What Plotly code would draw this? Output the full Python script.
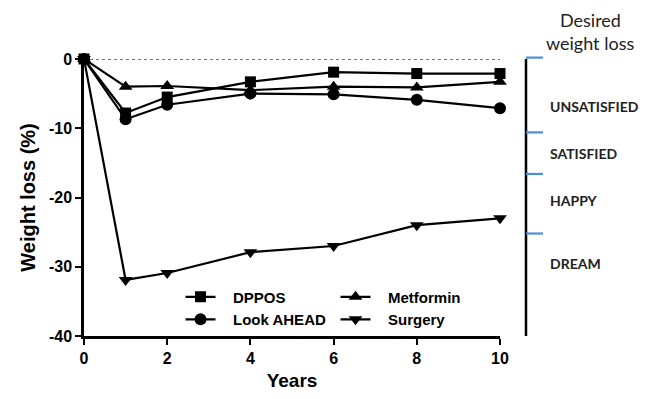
import plotly.graph_objects as go

years = [0, 1, 2, 4, 6, 8, 10]
dppos = [0, -7.8, -5.5, -3.3, -1.9, -2.1, -2.1]
metformin = [0, -4.0, -3.9, -4.5, -4.0, -4.1, -3.3]
look_ahead = [0, -8.7, -6.6, -5.0, -5.1, -5.9, -7.1]
surgery = [0, -31.9, -30.9, -27.9, -27.0, -24.0, -23.0]

zones = ["UNSATISFIED", "SATISFIED", "HAPPY", "DREAM"]
zone_label_y = [-6.8, -13.6, -20.5, -29.6]
zone_bounds = [0.2, -10.6, -16.6, -25.2]

x_ticks = [0, 2, 4, 6, 8, 10]
y_ticks = [0, -10, -20, -30, -40]

series = [
    ("DPPOS", dppos, "square", 11),
    ("Metformin", metformin, "triangle-up", 12),
    ("Look AHEAD", look_ahead, "circle", 12),
    ("Surgery", surgery, "triangle-down", 12),
]

fig = go.Figure()

# dotted zero line
fig.add_trace(go.Scatter(x=[0, 10], y=[0, 0], mode="lines",
                         line=dict(color="#444", width=1.5, dash="dot"),
                         showlegend=False, hoverinfo="skip"))

for name, vals, sym, sz in series:
    fig.add_trace(go.Scatter(
        x=years, y=vals, name="\u00a0\u00a0\u00a0" + name, mode="lines+markers",
        line=dict(color="black", width=2.2),
        marker=dict(symbol=sym, size=sz, color="black"),
        cliponaxis=False,
    ))

axis_font = dict(family="Liberation Sans, Arial", size=16, color="black")

fig.update_layout(
    width=649, height=399,
    margin=dict(l=84, r=149, t=59, b=63),
    plot_bgcolor="white", paper_bgcolor="white",
    showlegend=True,
    legend=dict(orientation="h", x=0.232, y=0.20, xanchor="left", yanchor="top",
                entrywidth=110, bgcolor="rgba(0,0,0,0)",
                font=dict(family="Liberation Sans, Arial", size=15, color="black", weight="bold"),
                tracegroupgap=0, itemwidth=30),
    xaxis=dict(range=[0, 10], tickvals=x_ticks, ticktext=[str(v) for v in x_ticks],
               showgrid=False, zeroline=False, showline=True, linecolor="black",
               linewidth=2.5, ticks="outside", ticklen=6, tickwidth=2, tickcolor="black",
               tickfont=dict(axis_font, weight="bold"),
               title=dict(text="Years", font=dict(family="Liberation Sans, Arial", size=19,
                                                  color="black", weight="bold"), standoff=8)),
    yaxis=dict(range=[-40, 0], tickvals=y_ticks, ticktext=[str(v) for v in y_ticks],
               showgrid=False, zeroline=False, showline=True, linecolor="black",
               linewidth=2.5, ticks="outside", ticklen=6, tickwidth=2, tickcolor="black",
               tickfont=dict(axis_font, weight="bold"),
               title=dict(text="Weight loss (%)", font=dict(family="Liberation Sans, Arial", size=20,
                                                            color="black", weight="bold"), standoff=8)),
)

line_x = (526 - 84) / 416
tick_x2 = (543 - 84) / 416
label_x = (548 - 84) / 416


def to_paper(v):
    return (v + 40) / 40


fig.add_shape(type="line", xref="paper", yref="paper", x0=line_x, x1=line_x,
              y0=to_paper(0), y1=to_paper(-40), line=dict(color="black", width=2.5))
for b in zone_bounds:
    fig.add_shape(type="line", xref="paper", yref="paper", x0=line_x, x1=tick_x2,
                  y0=to_paper(b), y1=to_paper(b), line=dict(color="#4a8fd8", width=2.2))

for t, yv in zip(zones, zone_label_y):
    fig.add_annotation(text=t, xref="paper", yref="y", x=label_x, y=yv, xanchor="left",
                       yanchor="middle", showarrow=False,
                       font=dict(family="Lato, Noto Sans", size=14, color="#222", weight="bold"))

title_x = (590 - 84) / 416
for txt, py in [("Desired", 20), ("weight loss", 43)]:
    fig.add_annotation(text=txt, xref="paper", yref="paper",
                       x=title_x, y=(336 - py) / 277, xanchor="center", yanchor="middle",
                       showarrow=False, align="center", borderpad=0,
                       font=dict(family="Lato, Noto Sans", size=18, color="#222"))

fig.write_html("out.html")
